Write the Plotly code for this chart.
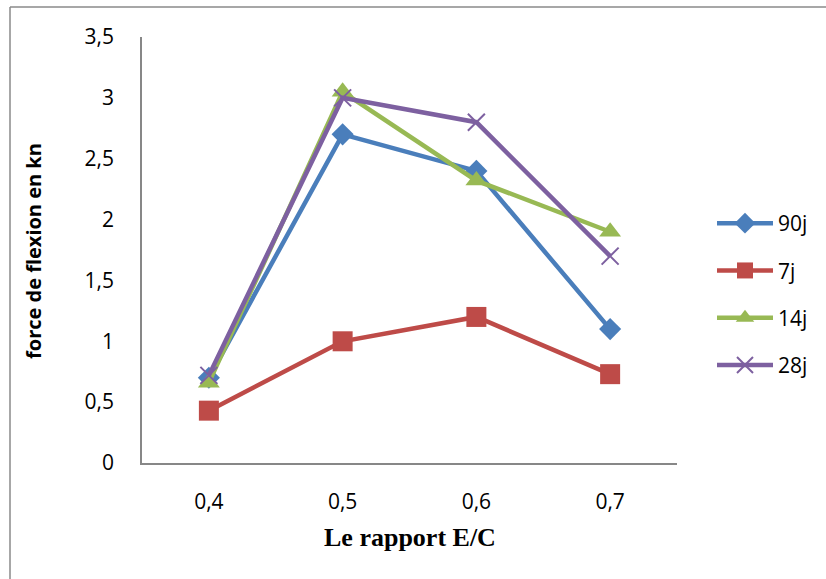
import plotly.graph_objects as go

categories = ["0,4", "0,5", "0,6", "0,7"]
series_names = ["90j", "7j", "14j", "28j"]
s90 = [0.70, 2.70, 2.40, 1.10]
s7 = [0.43, 1.00, 1.20, 0.73]
s14 = [0.66, 3.05, 2.32, 1.90]
s28 = [0.72, 3.00, 2.80, 1.70]
y_ticks = [0, 0.5, 1, 1.5, 2, 2.5, 3, 3.5]

colors = ["#4A7EBB", "#BE4B48", "#98B954", "#7D60A0"]
symbols = ["diamond", "square", "triangle-up", "x-thin"]
sizes = [17, 20, 19, 17]
data = [s90, s7, s14, s28]

fig = go.Figure()
for i, (name, vals) in enumerate(zip(series_names, data)):
    marker = dict(symbol=symbols[i], size=sizes[i], color=colors[i])
    if symbols[i] == "x-thin":
        marker["line"] = dict(color=colors[i], width=2)
    fig.add_trace(go.Scatter(
        x=categories, y=vals, name=name, mode="lines+markers",
        line=dict(color=colors[i], width=4.5),
        marker=marker, legendgroup=name,
    ))

L, R, T, B = 142, 149, 37, 116
W, H = 826, 579
pw, ph = W - L - R, H - T - B

def px(x):
    return (x - L) / pw

def py(y):
    return 1 - (y - T) / ph

fig.update_layout(
    width=W, height=H,
    margin=dict(l=L, r=R, t=T, b=B),
    paper_bgcolor="white", plot_bgcolor="white",
    separators=", ",
    font=dict(family="Open Sans, Noto Sans, sans-serif", size=20, color="black"),
    showlegend=True,
    legend=dict(x=px(712), y=py(203), xanchor="left", yanchor="top",
                font=dict(size=21), tracegroupgap=17, itemwidth=56,
                bgcolor="rgba(0,0,0,0)"),
    xaxis=dict(type="category", range=[-0.5, 3.5], showgrid=False, zeroline=False,
               showline=True, linecolor="#878787", linewidth=1.5,
               ticks="", ticklabelstandoff=19, tickfont=dict(size=21)),
    yaxis=dict(range=[0, 3.5], tickvals=y_ticks, showgrid=False, zeroline=False,
               showline=True, linecolor="#878787", linewidth=1.5,
               ticks="", ticklabelstandoff=22, tickfont=dict(size=21)),
    annotations=[
        dict(text="<b>Le rapport E/C</b>", xref="paper", yref="paper",
             x=0.5, y=py(537), xanchor="center", yanchor="middle", showarrow=False,
             font=dict(family="Liberation Serif, Times New Roman, serif", size=26)),
        dict(text="<b>force de flexion en kn</b>", xref="paper", yref="paper",
             x=px(33), y=py(251), xanchor="center", yanchor="middle", showarrow=False,
             textangle=-90, font=dict(size=20)),
    ],
    shapes=[
        dict(type="line", xref="paper", yref="paper", x0=px(10), x1=px(10),
             y0=py(7), y1=py(600), line=dict(color="#8A8A8A", width=1.5)),
        dict(type="line", xref="paper", yref="paper", x0=px(10), x1=px(840),
             y0=py(7), y1=py(7), line=dict(color="#8A8A8A", width=1.5)),
    ],
)

fig.write_html("out.html", config={"displayModeBar": False},
               post_script="document.body.style.margin='0px';document.body.style.overflow='hidden';")
